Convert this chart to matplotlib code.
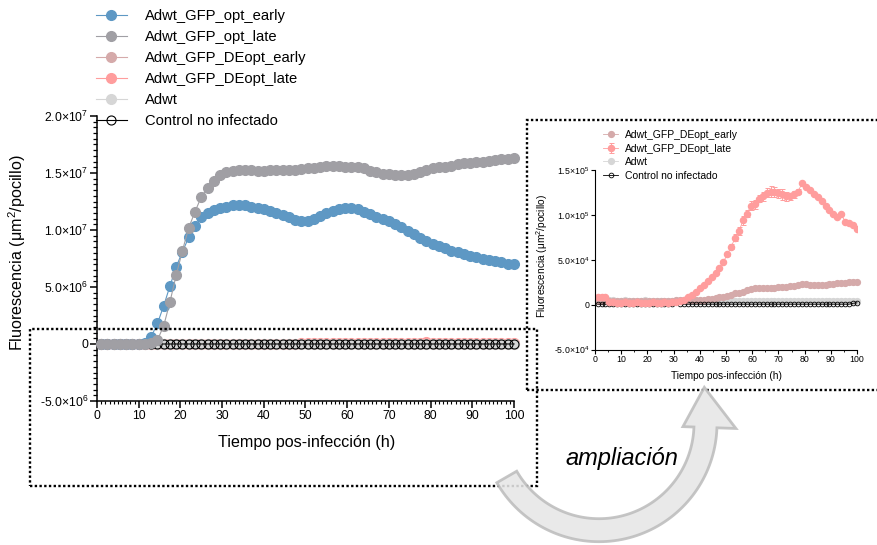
import numpy as np
import matplotlib
matplotlib.use('Agg')
import matplotlib.pyplot as plt
import matplotlib.patches as mpatches
from matplotlib import font_manager

# sampling times (h): one reading every 1.5 h from 1 h to 100 h
time = np.arange(1, 101, 1.5)

# opt viruses, units of 1e6 um2/well
opt_early = [0.0, 0.0, 0.0, 0.0, 0.0, 0.0, 0.02, 0.1, 0.64, 1.8,
             3.36, 5.09, 6.78, 8.1, 9.36, 10.35, 11.1, 11.5, 11.75, 11.9,
             12.05, 12.15, 12.2, 12.15, 12.05, 11.95, 11.85, 11.7, 11.5, 11.3,
             11.1, 10.9, 10.75, 10.75, 10.95, 11.2, 11.45, 11.65, 11.8, 11.9,
             11.9, 11.8, 11.6, 11.4, 11.15, 10.95, 10.75, 10.5, 10.25, 9.95,
             9.65, 9.3, 9.05, 8.8, 8.6, 8.4, 8.2, 8.05, 7.9, 7.75,
             7.6, 7.45, 7.35, 7.25, 7.15, 7.05, 7.0]
opt_late = [0.0, 0.0, 0.0, 0.0, 0.0, 0.0, 0.0, 0.0, 0.05, 0.35,
            1.6, 3.7, 6.05, 8.2, 10.2, 11.6, 12.9, 13.7, 14.3, 14.8,
            15.1, 15.2, 15.25, 15.25, 15.25, 15.2, 15.2, 15.25, 15.25, 15.3,
            15.3, 15.3, 15.35, 15.4, 15.45, 15.55, 15.65, 15.65, 15.6, 15.55,
            15.5, 15.5, 15.4, 15.2, 15.05, 14.95, 14.9, 14.85, 14.85, 14.85,
            14.9, 15.1, 15.3, 15.4, 15.5, 15.55, 15.65, 15.75, 15.85, 15.9,
            15.95, 16.0, 16.05, 16.15, 16.2, 16.25, 16.3]

# DEopt viruses and controls, units of 1e4 um2/well
deopt_early = [0.45, 0.45, 0.4, 0.4, 0.4, 0.4, 0.4, 0.4, 0.4, 0.4,
               0.4, 0.4, 0.4, 0.4, 0.4, 0.45, 0.45, 0.45, 0.45, 0.45,
               0.5, 0.5, 0.5, 0.5, 0.55, 0.55, 0.55, 0.55, 0.6, 0.65,
               0.7, 0.8, 0.9, 1.0, 1.1, 1.25, 1.35, 1.45, 1.6, 1.7,
               1.8, 1.85, 1.85, 1.85, 1.85, 1.9, 1.95, 2.0, 2.0, 2.05,
               2.1, 2.15, 2.35, 2.25, 2.2, 2.15, 2.2, 2.2, 2.2, 2.25,
               2.3, 2.4, 2.45, 2.45, 2.5, 2.5, 2.5]
deopt_late = [0.8, 0.8, 0.8, 0.3, 0.25, 0.2, 0.2, 0.25, 0.2, 0.2,
              0.25, 0.2, 0.2, 0.2, 0.25, 0.2, 0.2, 0.25, 0.2, 0.25,
              0.3, 0.35, 0.5, 0.8, 1.1, 1.45, 1.8, 2.2, 2.6, 3.1,
              3.5, 4.1, 4.75, 5.6, 6.45, 7.45, 8.2, 9.4, 10.15, 11.0,
              11.2, 11.8, 12.1, 12.45, 12.6, 12.55, 12.4, 12.3, 12.1, 12.05,
              12.3, 12.6, 13.5, 13.15, 12.8, 12.35, 11.95, 11.55, 11.0, 10.5,
              10.1, 9.8, 10.05, 9.25, 9.1, 8.9, 8.45]
deopt_late_err = [0, 0, 0, 0, 0, 0, 0, 0, 0, 0,
                  0, 0, 0, 0, 0, 0, 0, 0, 0, 0,
                  0, 0, 0, 0, 0, 0, 0, 0, 0, 0,
                  0, 0, 0, 0.2, 0.3, 0.4, 0.4, 0.5, 0.4, 0.5,
                  0.5, 0.4, 0.5, 0.5, 0.6, 0.6, 0.5, 0.6, 0.5, 0.4,
                  0.4, 0.3, 0, 0, 0, 0, 0, 0, 0, 0,
                  0, 0, 0, 0, 0, 0, 0]
adwt = [0.55, 0.5, 0.5, 0.5, 0.5, 0.45, 0.45, 0.5, 0.45, 0.45,
        0.45, 0.45, 0.5, 0.45, 0.45, 0.45, 0.45, 0.45, 0.45, 0.45,
        0.45, 0.4, 0.4, 0.4, 0.4, 0.4, 0.4, 0.4, 0.4, 0.4,
        0.4, 0.4, 0.4, 0.4, 0.4, 0.4, 0.4, 0.4, 0.4, 0.4,
        0.4, 0.4, 0.4, 0.4, 0.4, 0.4, 0.4, 0.4, 0.4, 0.4,
        0.4, 0.4, 0.4, 0.4, 0.4, 0.4, 0.4, 0.4, 0.4, 0.4,
        0.4, 0.4, 0.4, 0.4, 0.4, 0.4, 0.4]
control = [0.05, 0.05, 0.05, 0.05, 0.05, 0.05, 0.05, 0.05, 0.05, 0.05,
           0.05, 0.05, 0.05, 0.05, 0.05, 0.05, 0.05, 0.05, 0.05, 0.05,
           0.25, 0.05, 0.05, 0.05, 0.05, 0.05, 0.05, 0.05, 0.05, 0.05,
           0.05, 0.05, 0.05, 0.05, 0.05, 0.05, 0.05, 0.05, 0.05, 0.05,
           0.05, 0.05, 0.05, 0.05, 0.05, 0.05, 0.05, 0.05, 0.05, 0.05,
           0.05, 0.05, 0.05, 0.05, 0.05, 0.05, 0.05, 0.05, 0.05, 0.05,
           0.05, 0.05, 0.05, 0.05, 0.05, 0.15, 0.2]

labels = ['Adwt_GFP_opt_early', 'Adwt_GFP_opt_late', 'Adwt_GFP_DEopt_early',
          'Adwt_GFP_DEopt_late', 'Adwt', 'Control no infectado']
colors = ['#5e98c4', '#a09fa4', '#d5aaaa', '#ff9d9d', '#d6d6d6', 'black']

main_yticks = [-5e6, 0, 5e6, 1e7, 1.5e7, 2e7]
main_ylabels = ['-5.0×10$^{6}$', '0', '5.0×10$^{6}$', '1.0×10$^{7}$',
                '1.5×10$^{7}$', '2.0×10$^{7}$']
zoom_yticks = [-5e4, 0, 5e4, 1e5, 1.5e5]
zoom_ylabels = ['-5.0×10$^{4}$', '0', '5.0×10$^{4}$', '1.0×10$^{5}$',
                '1.5×10$^{5}$']
xticks = [0, 10, 20, 30, 40, 50, 60, 70, 80, 90, 100]

# font: narrow Arial look if we have it
names = {f.name for f in font_manager.fontManager.ttflist}
if 'Liberation Sans Narrow' in names:
    FONT = 'Liberation Sans Narrow'
    k = 1.2
else:
    FONT = 'Liberation Sans'
    k = 1.04
plt.rcParams['font.family'] = [FONT, 'DejaVu Sans']
plt.rcParams['mathtext.fontset'] = 'custom'
plt.rcParams['mathtext.rm'] = FONT
plt.rcParams['mathtext.default'] = 'regular'

W, H = 878, 545


def box(x0, y0, x1, y1):
    # pixel box (image coords) -> figure fraction rect
    return [x0 / W, 1 - y1 / H, (x1 - x0) / W, (y1 - y0) / H]


fig = plt.figure(figsize=(W / 100, H / 100), dpi=100)

# ---------------- main plot ----------------
ax = fig.add_axes(box(97, 116, 514, 401))
t = np.array(time)
series = [np.array(opt_early) * 1e6, np.array(opt_late) * 1e6,
          np.array(deopt_early) * 1e4, np.array(deopt_late) * 1e4,
          np.array(adwt) * 1e4, np.array(control) * 1e4]
order_z = [2.5, 2.6, 2.0, 2.1, 2.2, 2.3]
handles = []
for y, c, lab, z in zip(series, colors, labels, order_z):
    if lab == 'Control no infectado':
        h, = ax.plot(t, y, '-o', color=c, lw=0.8, ms=6.5, mfc='none',
                     mec='black', mew=0.8, zorder=z, clip_on=False, label=lab)
    else:
        h, = ax.plot(t, y, '-o', color=c, lw=0.8, ms=7, mec=c, zorder=z,
                     clip_on=False, label=lab)
    handles.append(h)

ax.set_xlim(0, 100)
ax.set_ylim(-5e6, 2e7)
ax.set_xticks(xticks)
ax.set_xticks(np.arange(0, 101, 1), minor=True)
ax.set_yticks(main_yticks, labels=main_ylabels)
ax.set_yticks(np.arange(-5e6, 2.01e7, 5e5), minor=True)
for s in ['top', 'right']:
    ax.spines[s].set_visible(False)
for s in ['left', 'bottom']:
    ax.spines[s].set_linewidth(1.1)
ax.tick_params(which='major', direction='out', length=5, width=1.1,
               labelsize=8.5 * k, pad=1.5)
ax.tick_params(axis='x', which='minor', direction='out', length=1.8, width=0.8)
ax.tick_params(axis='y', which='minor', direction='out', length=2.8, width=0.9)
ax.set_xlabel('Tiempo pos-infección (h)', fontsize=11.2 * k)
ax.set_ylabel('Fluorescencia (μm$^{2}$/pocillo)', fontsize=11.2 * k)
ax.xaxis.set_label_coords(0.503, -0.12)
ax.yaxis.set_label_coords(-0.165, 0.52)
ax.patch.set_alpha(0)

ax.legend(handles=handles, loc='upper left', bbox_to_anchor=(96 / W, 1 - 9 / H),
          bbox_transform=fig.transFigure, frameon=False, fontsize=10.2 * k,
          handlelength=2.1, handletextpad=1.2, labelspacing=0.48,
          borderpad=0, borderaxespad=0)

# ---------------- zoomed plot ----------------
axi = fig.add_axes(box(595, 170, 857, 349.5))
zs = [np.array(adwt) * 1e4, np.array(deopt_early) * 1e4,
      np.array(deopt_late) * 1e4, np.array(control) * 1e4]
axi.plot(t, zs[0], '-o', color=colors[4], lw=0.6, ms=4.2, zorder=2.0,
         clip_on=False, label=labels[4])
axi.plot(t, zs[1], '-o', color=colors[2], lw=0.6, ms=4.2, zorder=2.1,
         clip_on=False, label=labels[2])
axi.errorbar(t, zs[2], yerr=np.array(deopt_late_err) * 1e4, fmt='-o',
             color=colors[3], lw=0.6, ms=4.4, elinewidth=0.7, capsize=1.8,
             capthick=0.7, zorder=2.2, label=labels[3])
axi.plot(t, zs[3], '-o', color='black', lw=0.6, ms=3.4, mfc='none',
         mew=0.6, zorder=2.3, clip_on=False, label=labels[5])
axi.set_xlim(0, 100)
axi.set_ylim(-5e4, 1.5e5)
axi.set_xticks(xticks)
axi.set_xticks(np.arange(0, 101, 5), minor=True)
axi.set_yticks(zoom_yticks, labels=zoom_ylabels)
for s in ['top', 'right']:
    axi.spines[s].set_visible(False)
for s in ['left', 'bottom']:
    axi.spines[s].set_linewidth(0.8)
axi.tick_params(which='major', direction='out', length=3, width=0.8,
                labelsize=6.1 * k, pad=1)
axi.tick_params(which='minor', direction='out', length=1.5, width=0.6)
axi.set_xlabel('Tiempo pos-infección (h)', fontsize=7 * k)
axi.set_ylabel('Fluorescencia (μm$^{2}$/pocillo)', fontsize=7 * k)
axi.xaxis.set_label_coords(0.5, -0.12)
axi.yaxis.set_label_coords(-0.17, 0.52)
hs, ls = axi.get_legend_handles_labels()
want = [labels[2], labels[3], labels[4], labels[5]]
hs = [hs[ls.index(w)] for w in want]
axi.legend(hs, want, loc='upper left', bbox_to_anchor=(603 / W, 1 - 130 / H),
           bbox_transform=fig.transFigure, frameon=False, fontsize=7.2 * k,
           handlelength=1.45, handletextpad=0.65, labelspacing=0.34,
           borderpad=0, borderaxespad=0)

# ---------------- dotted frames ----------------
for x0, y0, x1, y1 in [(30, 329, 537, 486), (527, 120, 884, 390)]:
    r = mpatches.Rectangle((x0 / W, 1 - y1 / H), (x1 - x0) / W, (y1 - y0) / H,
                           transform=fig.transFigure, fill=False,
                           ls=(0, (1, 1)), lw=1.7, edgecolor='black')
    fig.add_artist(r)

# ---------------- curved arrow ----------------
cx, cy = 599, 545 - 423.7
th = np.radians(np.linspace(210, 358, 80))
outer = np.c_[cx + 118 * np.cos(th), cy + 118 * np.sin(th)]
inner = np.c_[cx + 95 * np.cos(th[::-1]), cy + 95 * np.sin(th[::-1])]
te = np.radians(358)
nv = np.array([np.cos(te), np.sin(te)])
tv = np.array([-np.sin(te), np.cos(te)])
base = np.array([cx, cy]) + 106 * nv
head = np.array([base + 31 * nv, base + 40 * tv - 2 * nv, base - 22 * nv])
poly = np.vstack([outer, head, inner])
poly[:, 0] /= W
poly[:, 1] /= H
arrow = mpatches.Polygon(poly, closed=True, transform=fig.transFigure,
                         facecolor='#e6e6e6', edgecolor='#bdbdbd', lw=2.0,
                         alpha=0.88)
fig.add_artist(arrow)
fig.text(622 / W, 1 - 458 / H, 'ampliación', ha='center', va='center',
         fontsize=17, style='italic', family='Liberation Sans')

fig.savefig('out.png', dpi=100)
